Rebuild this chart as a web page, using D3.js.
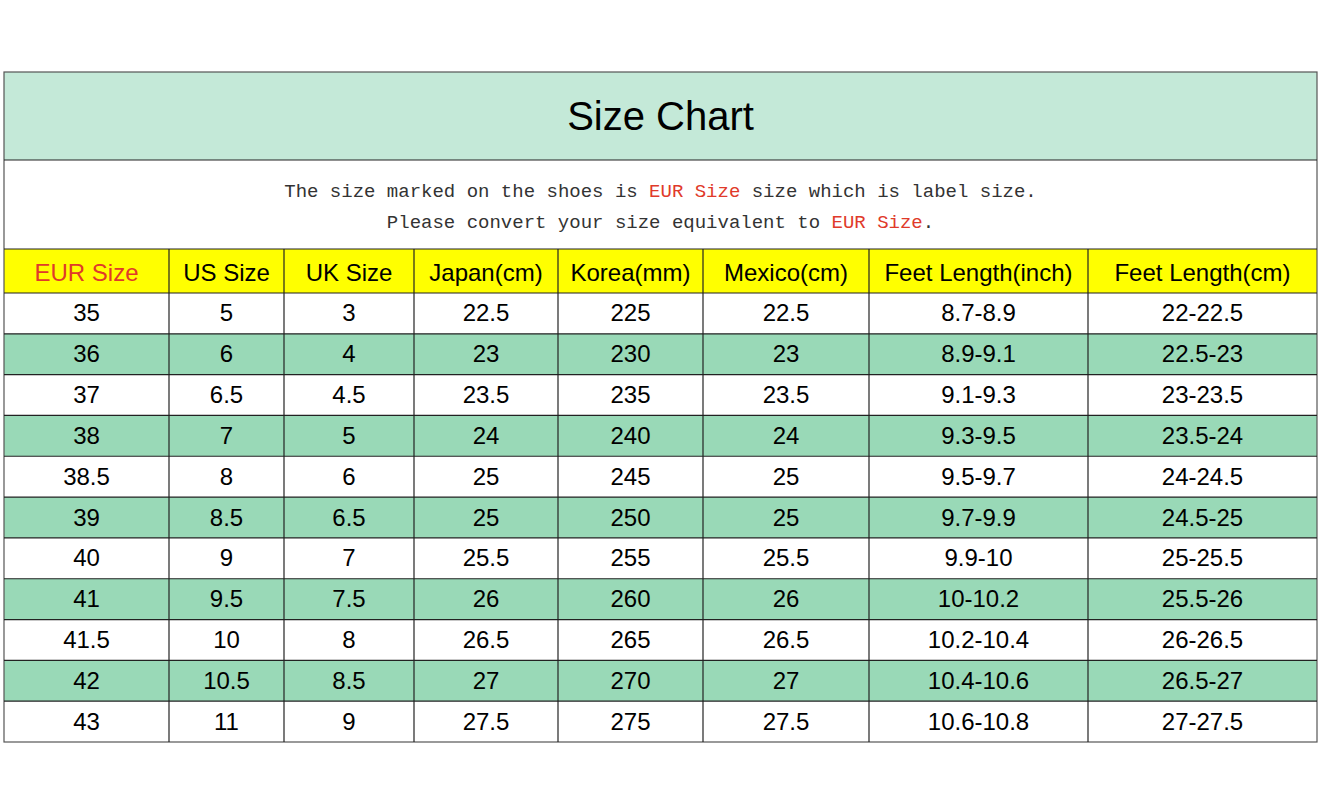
<!DOCTYPE html>
<html>
<head>
<meta charset="utf-8">
<script src="https://cdn.jsdelivr.net/npm/d3@7"></script>
<style>
  body { margin: 0; background: #fff; }
</style>
</head>
<body>
<svg id="chart" width="1321" height="800"></svg>
<script>
// table data
var headers = ["EUR Size", "US Size", "UK Size", "Japan(cm)", "Korea(mm)", "Mexico(cm)", "Feet Length(inch)", "Feet Length(cm)"];
var eur = ["35", "36", "37", "38", "38.5", "39", "40", "41", "41.5", "42", "43"];
var us = ["5", "6", "6.5", "7", "8", "8.5", "9", "9.5", "10", "10.5", "11"];
var uk = ["3", "4", "4.5", "5", "6", "6.5", "7", "7.5", "8", "8.5", "9"];
var japan = ["22.5", "23", "23.5", "24", "25", "25", "25.5", "26", "26.5", "27", "27.5"];
var korea = ["225", "230", "235", "240", "245", "250", "255", "260", "265", "270", "275"];
var mexico = ["22.5", "23", "23.5", "24", "25", "25", "25.5", "26", "26.5", "27", "27.5"];
var feetInch = ["8.7-8.9", "8.9-9.1", "9.1-9.3", "9.3-9.5", "9.5-9.7", "9.7-9.9", "9.9-10", "10-10.2", "10.2-10.4", "10.4-10.6", "10.6-10.8"];
var feetCm = ["22-22.5", "22.5-23", "23-23.5", "23.5-24", "24-24.5", "24.5-25", "25-25.5", "25.5-26", "26-26.5", "26.5-27", "27-27.5"];

var columns = [eur, us, uk, japan, korea, mexico, feetInch, feetCm];
var colEdges = [4, 169, 284, 414, 558, 703, 869, 1088, 1317];

var svg = d3.select("#chart");
var left = 4, right = 1317;
var titleTop = 72, titleBottom = 160, headTop = 249, headBottom = 293, tableBottom = 742;

// row scale
var y = d3.scaleBand().domain(d3.range(eur.length)).range([headBottom, tableBottom]);

// title band
svg.append("rect").attr("x", left).attr("y", titleTop).attr("width", right - left)
  .attr("height", titleBottom - titleTop).attr("fill", "#c4e9d8");
svg.append("text").attr("x", (left + right) / 2).attr("y", 130).attr("text-anchor", "middle")
  .style("font-family", "Arial, 'Liberation Sans', sans-serif").style("font-size", "40px")
  .text("Size Chart");

// subtitle
var sub = svg.append("g").style("font-family", "'Liberation Mono', 'DejaVu Sans Mono', monospace")
  .style("font-size", "19px").attr("fill", "#333");
var line1 = sub.append("text").attr("x", (left + right) / 2).attr("y", 197).attr("text-anchor", "middle");
line1.append("tspan").text("The size marked on the shoes is ");
line1.append("tspan").attr("fill", "#e03a2a").text("EUR Size");
line1.append("tspan").text(" size which is label size.");
var line2 = sub.append("text").attr("x", (left + right) / 2).attr("y", 228).attr("text-anchor", "middle");
line2.append("tspan").text("Please convert your size equivalent to ");
line2.append("tspan").attr("fill", "#e03a2a").text("EUR Size");
line2.append("tspan").text(".");

// header
svg.append("rect").attr("x", left).attr("y", headTop).attr("width", right - left)
  .attr("height", headBottom - headTop).attr("fill", "#ffff00");
headers.forEach(function (h, i) {
  svg.append("text").attr("x", (colEdges[i] + colEdges[i + 1]) / 2).attr("y", 281)
    .attr("text-anchor", "middle").attr("fill", i === 0 ? "#e03a2a" : "#000")
    .style("font-family", "Arial, 'Liberation Sans', sans-serif").style("font-size", "24px")
    .text(h);
});

// row backgrounds
svg.selectAll("rect.row").data(eur).join("rect").attr("class", "row")
  .attr("x", left).attr("width", right - left)
  .attr("y", function (d, i) { return y(i); }).attr("height", y.bandwidth())
  .attr("fill", function (d, i) { return i % 2 ? "#99d9b7" : "#fff"; });

// cells
columns.forEach(function (col, c) {
  svg.selectAll("text.c" + c).data(col).join("text").attr("class", "c" + c)
    .attr("x", (colEdges[c] + colEdges[c + 1]) / 2)
    .attr("y", function (d, i) { return y(i) + y.bandwidth() / 2 + 8; })
    .attr("text-anchor", "middle")
    .style("font-family", "Arial, 'Liberation Sans', sans-serif").style("font-size", "24px")
    .text(function (d) { return d; });
});

// grid lines
var g = svg.append("g").attr("stroke", "#222").attr("stroke-width", 1.2).attr("fill", "none");
g.append("rect").attr("x", left).attr("y", titleTop).attr("width", right - left).attr("height", tableBottom - titleTop).attr("stroke", "#555");
[titleBottom, headTop, headBottom].concat(d3.range(1, eur.length).map(function (i) { return y(i); }))
  .forEach(function (yy) { g.append("line").attr("x1", left).attr("x2", right).attr("y1", yy).attr("y2", yy); });
colEdges.slice(1, -1).forEach(function (xx) {
  g.append("line").attr("x1", xx).attr("x2", xx).attr("y1", headTop).attr("y2", tableBottom);
});
</script>
</body>
</html>
